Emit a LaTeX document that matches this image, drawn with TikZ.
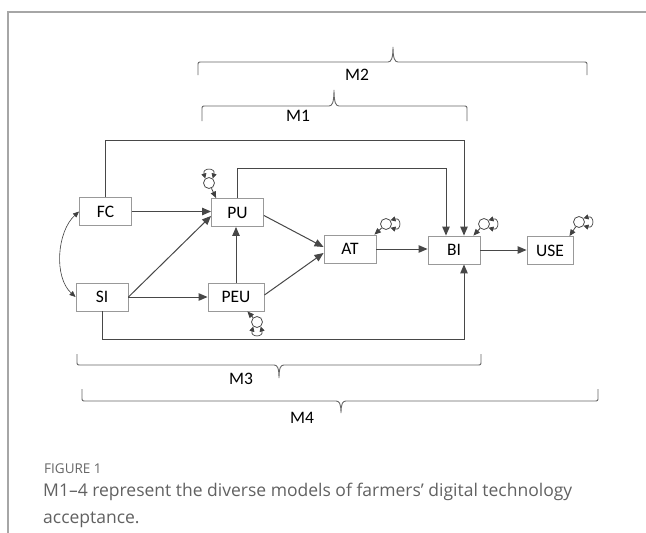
\documentclass[tikz,border=0pt]{standalone}
\usepackage{fontspec}
\setmainfont{Open Sans}
\newfontfamily\boxfont{Carlito}
\usetikzlibrary{arrows.meta}

\tikzset{
  var/.style={draw=black!40, line width=0.9pt, minimum width=52pt, minimum height=28pt,
    inner sep=0pt, font=\boxfont\fontsize{17.5}{17}\selectfont},
  err/.style={circle, draw=black!70, line width=0.8pt, minimum size=11pt, inner sep=0pt},
  link/.style={draw=black!72, line width=1pt, -{Triangle[length=9pt,width=7.5pt]}},
  errlink/.style={draw=black!75, line width=0.8pt, -{Triangle[length=6.5pt,width=5.5pt]}},
  errloop/.style={draw=black!75, line width=0.7pt,
    {Triangle[length=5pt,width=5pt]}-{Triangle[length=5pt,width=5pt]}},
  mbrace/.style={draw=black!60, line width=0.9pt},
  mlabel/.style={font=\boxfont\fontsize{17.5}{17}\selectfont}
}

\begin{document}
\begin{tikzpicture}[x=1pt,y=-1pt]
  \useasboundingbox (0,0) rectangle (646,533);
  \draw[black!35, line width=1.2pt] (8,533) -- (8,12) -- (646,12);

  % constructs
  \node[var] (FC) at (105.5,211.5) {FC};
  \node[var] (SI) at (102,297) {SI};
  \node[var] (PU) at (237.5,212.5) {PU};
  \node[var, minimum width=56pt] (PEU) at (236,297) {PEU};
  \node[var] (AT) at (350,249) {AT};
  \node[var] (BI) at (454,250) {BI};
  \node[var, minimum width=46pt] (USE) at (550,250.5) {USE};

  % paths
  \draw[link] (FC.east) -- (FC.east -| PU.west);
  \draw[link] (SI.east) -- (PEU.west);
  \draw[link] (SI.east) -- ([yshift=11pt]PU.south west);
  \draw[link] (PEU.north) -- (PEU.north |- PU.south);
  \draw[link] ([yshift=-3pt]PU.east) -- ([yshift=2pt]AT.west);
  \draw[link] ([yshift=2pt]PEU.east) -- ([yshift=-4pt]AT.west);
  \draw[link] (AT.east) -- (AT.east -| BI.west);
  \draw[link] (BI.east) -- (BI.east -| USE.west);
  \draw[link] (FC.north) -- ++(0,-57) -| ([xshift=10pt]BI.north);
  \draw[link] (PU.north) -- ++(0,-30) -| ([xshift=-8pt]BI.north);
  \draw[link] (SI.south) -- ++(0,28) -| ([xshift=10pt]BI.south);
  \draw[errlink, {Triangle[length=6pt,width=5pt]}-{Triangle[length=6pt,width=5pt]}, line width=0.6pt]
    (FC.west) .. controls +(-22,20) and +(-22,-20) .. (SI.west);

  % error terms
  \node[err] (ePU) at (209,183) {};
  \node[err] (ePEU) at (257,322) {};
  \node[err] (eAT) at (386,224) {};
  \node[err] (eBI) at (484,224) {};
  \node[err] (eUSE) at (579,222) {};
  \draw[errlink] (ePU) -- ([xshift=5pt]PU.north west);
  \draw[errlink] (ePEU) -- ([xshift=-17pt]PEU.south east);
  \draw[errlink] (eAT) -- ([xshift=-2pt]AT.north east);
  \draw[errlink] (eBI) -- ([xshift=-7pt]BI.north east);
  \draw[errlink] (eUSE) -- ([xshift=-4pt]USE.north east);
  \draw[errloop] (ePU.130) .. controls +(-3,-11) and +(3,-11) .. (ePU.50);
  \draw[errloop] (ePEU.-130) .. controls +(-3,11) and +(3,11) .. (ePEU.-50);
  \draw[errloop] (eAT.40) .. controls +(11,-3) and +(11,3) .. (eAT.-40);
  \draw[errloop] (eBI.40) .. controls +(11,-3) and +(11,3) .. (eBI.-40);
  \draw[errloop] (eUSE.40) .. controls +(11,-3) and +(11,3) .. (eUSE.-40);

  % models
  \draw[mbrace] (198,75) -- (198,66) .. controls (198,62) .. (202,62) -- (388,62)
    .. controls (391,62) and (393,59) .. (393,47) .. controls (393,59) and (395,62) .. (398,62)
    -- (583,62) .. controls (587,62) .. (587,66) -- (587,75);
  \node[mlabel] (M2) at (357,75) {M2};
  \draw[mbrace] (202,121) -- (202,110) .. controls (202,106) .. (206,106) -- (329,106)
    .. controls (332,106) and (334,103) .. (334,90) .. controls (334,103) and (336,106) .. (339,106)
    -- (463,106) .. controls (467,106) .. (467,110) -- (467,121);
  \node[mlabel] (M1) at (298,116) {M1};
  \draw[mbrace] (77,354) -- (77,361) .. controls (77,365) .. (81,365) -- (274,365)
    .. controls (277,365) and (279,367) .. (279,378) .. controls (279,367) and (281,365) .. (284,365)
    -- (477,365) .. controls (481,365) .. (481,361) -- (481,354);
  \node[mlabel] (M3) at (241,379) {M3};
  \draw[mbrace] (82,389) -- (82,397) .. controls (82,401) .. (86,401) -- (336,401)
    .. controls (339,401) and (341,403) .. (341,413) .. controls (341,403) and (343,401) .. (346,401)
    -- (594,401) .. controls (598,401) .. (598,397) -- (598,389);
  \node[mlabel] (M4) at (302,418) {M4};

  % caption
  \node[anchor=north west, inner sep=0pt, text=black!60, font=\fontsize{13.5}{14}\selectfont]
    (fig) at (44,464) {FIGURE 1};
  \node[anchor=north west, inner sep=0pt, align=left, text=black!62, font=\fontsize{17.5}{27}\selectfont]
    (cap) at (43,483) {M1–4 represent the diverse models of farmers’ digital technology\\acceptance.};
\end{tikzpicture}
\end{document}
